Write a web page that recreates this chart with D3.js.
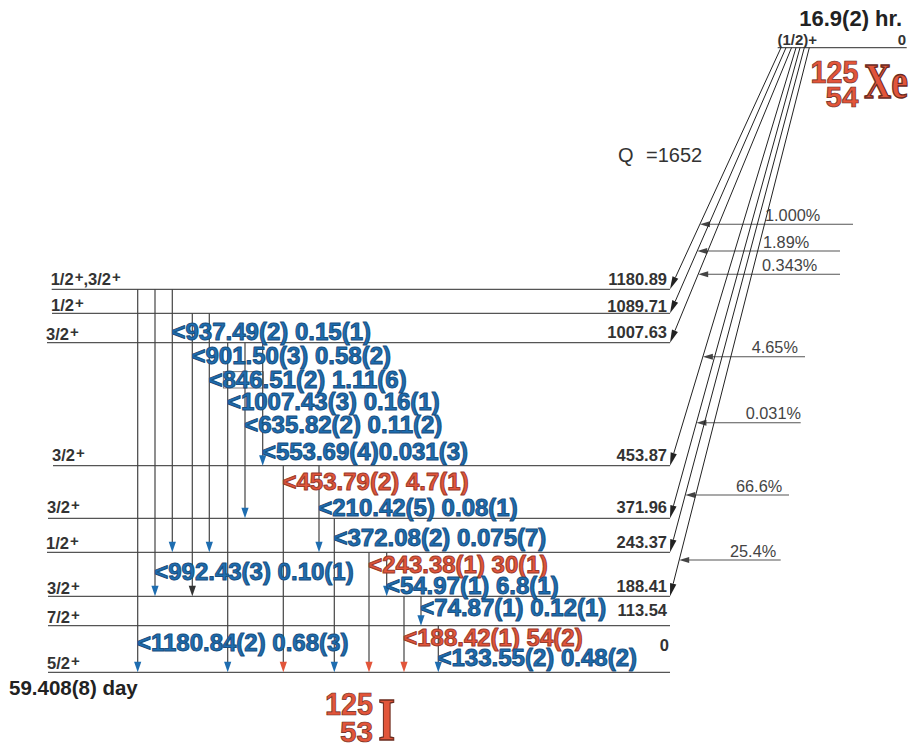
<!DOCTYPE html>
<html><head><meta charset="utf-8">
<script src="https://cdn.jsdelivr.net/npm/d3@7"></script>
<style>body{margin:0;background:#fff}</style>
</head><body><svg id="c" width="914" height="748"></svg>
<script>
// ---------------- DATA ----------------
const levelEnergies = [1180.89, 1089.71, 1007.63, 453.87, 371.96, 243.37, 188.41, 113.54, 0];
const levelLabels   = ["1180.89","1089.71","1007.63","453.87","371.96","243.37","188.41","113.54","0"];
const levelSpins    = ["1/2+,3/2+","1/2+","3/2+","3/2+","3/2+","1/2+","3/2+","7/2+","5/2+"];

const gammaFrom   = [1180.89,1180.89,1180.89,1089.71,1089.71,1007.63,1007.63,1007.63,453.87,453.87,371.96,243.37,243.37,188.41,188.41,113.54];
const gammaTo     = [0,188.41,243.37,188.41,243.37,0,371.96,453.87,0,243.37,0,0,188.41,0,113.54,0];
const gammaLabels = ["<1180.84(2) 0.68(3)","<992.43(3) 0.10(1)","<937.49(2) 0.15(1)","<901.50(3) 0.58(2)",
  "<846.51(2) 1.11(6)","<1007.43(3) 0.16(1)","<635.82(2) 0.11(2)","<553.69(4)0.031(3)",
  "<453.79(2) 4.7(1)","<210.42(5) 0.08(1)","<372.08(2) 0.075(7)","<243.38(1) 30(1)",
  "<54.97(1) 6.8(1)","<188.42(1) 54(2)","<74.87(1) 0.12(1)","<133.55(2) 0.48(2)"];
const gammaKind   = ["weak","weak","weak","plain","weak","weak","weak","weak",
  "strong","weak","weak","strong","weak","strong","weak","weak"];

const betaLevels      = [1180.89, 1089.71, 1007.63, 453.87, 371.96, 243.37, 188.41];
const betaIntensities = ["1.000%","1.89%","0.343%","4.65%","0.031%","66.6%","25.4%"];

const parentHalfLife = "16.9(2) hr.";
const parentSpin = "(1/2)+";
const parentLevel = "0";
const daughterHalfLife = "59.408(8) day";
const qValue = "=1652";
const parentNuclide = {A:"125", Z:"54", sym:"Xe"};
const daughterNuclide = {A:"125", Z:"53", sym:"I"};

// ---------------- LAYOUT / STYLE ----------------
const levelY = [289.3, 313.3, 342.7, 465.7, 518.3, 552.3, 596.3, 625.7, 672.3];
const levelLeft = [51.7, 52, 47, 53, 48, 47, 48, 48, 48];
const levelRight = 670;
const spinY = [284.5, 310.5, 339.5, 461, 513, 548.5, 593.5, 622.5, 668.5];
const energyY = [285, 311.5, 338, 461, 513, 547.5, 592, 615.5, 650.5];
const gammaX = [137.7,155,172.3,192.3,209.3,227.7,245,262.7,283.3,319,334.3,369,386.7,404,421,438.3];
const gammaLabelY = [651,580,340,364,387.5,410,433,460,490,516,546,573,594,646,616,666];
const betaStartX = [781,786,791.5,796,800,804.3,809.3];
const parentY = 47.7;
const arrowY = [224.3,251,274.3,356.7,422.7,495,560];
const arrowRight = [853,840,840,805,800.7,789,780.7];
const pctX = [765,763,762,751.7,745.7,736,730];

const BLUE = "#1e6db0", BLUE_S = "#184f80";
const RED = "#e2553a", RED_S = "#9a3a2a";
const DARK = "#333";
const fillOf = {weak: BLUE, strong: RED, plain: BLUE};
const strokeOf = {weak: BLUE_S, strong: RED_S, plain: BLUE_S};
const headOf = {weak: BLUE, strong: RED, plain: "#333"};

const svg = d3.select("#c");
const yScale = d3.scaleLinear().domain(levelEnergies).range(levelY);
const xGamma = d3.scaleOrdinal().domain(d3.range(gammaLabels.length)).range(gammaX);
const SANS = "'Liberation Sans', Arial, Helvetica, sans-serif";
const SERIF = "'Liberation Serif', 'Times New Roman', serif";

// ---------------- LEVELS ----------------
const lv = svg.append("g");
lv.selectAll("line").data(levelEnergies).join("line")
  .attr("x1",(d,i)=>levelLeft[i]).attr("x2",levelRight)
  .attr("y1",d=>yScale(d)).attr("y2",d=>yScale(d))
  .attr("stroke","#555").attr("stroke-width",1.3);

// spin labels with raised "+"
levelSpins.forEach((s,i)=>{
  const t = lv.append("text").attr("x",levelLeft[i]-1).attr("y",spinY[i])
    .attr("font-family",SANS).attr("font-weight","bold").attr("font-size",16.5).attr("fill",DARK);
  let raised = false;
  s.split(/(\+)/).filter(p=>p.length).forEach(p=>{
    if(p==="+"){ t.append("tspan").attr("dy",-3).attr("dx",1).attr("font-size",15).text("+"); raised = true; }
    else { t.append("tspan").attr("dy", raised? 3:0).text(p); raised = false; }
  });
});

lv.selectAll("text.en").data(levelLabels).join("text").attr("class","en")
  .attr("x",(d,i)=> i===8 ? 669 : 667).attr("y",(d,i)=>energyY[i])
  .attr("text-anchor","end").attr("font-family",SANS).attr("font-weight","bold")
  .attr("font-size",16.5).attr("fill",DARK).text(d=>d);

// ---------------- GAMMAS ----------------
const gg = svg.append("g");
// small box near 846.51 as in the reference
gg.append("rect").attr("x",223.3).attr("y",371.7).attr("width",40).attr("height",16.3)
  .attr("fill","none").attr("stroke","#555").attr("stroke-width",0.8);

gammaLabels.forEach((lab,i)=>{
  const x = xGamma(i), y1 = yScale(gammaFrom[i]), y2 = yScale(gammaTo[i]);
  gg.append("line").attr("x1",x).attr("x2",x).attr("y1",y1).attr("y2",y2-9)
    .attr("stroke","#444").attr("stroke-width",1.2);
  gg.append("path").attr("d",`M${x-3.6},${y2-10.5}L${x+3.6},${y2-10.5}L${x},${y2}Z`)
    .attr("fill",headOf[gammaKind[i]]);
});
gammaLabels.forEach((lab,i)=>{
  gg.append("text").attr("x",xGamma(i)-0.8).attr("y",gammaLabelY[i])
    .attr("font-family",SANS).attr("font-weight","bold").attr("font-size",24)
    .attr("fill",fillOf[gammaKind[i]]).attr("stroke",strokeOf[gammaKind[i]])
    .attr("stroke-width",1).attr("stroke-linejoin","round").text(lab);
});

// ---------------- PARENT ----------------
const pg = svg.append("g");
pg.append("line").attr("x1",777.7).attr("x2",906.7).attr("y1",parentY).attr("y2",parentY)
  .attr("stroke","#555").attr("stroke-width",1.3);
pg.append("text").attr("x",902).attr("y",26).attr("text-anchor","end")
  .attr("font-family",SANS).attr("font-weight","bold").attr("font-size",22).attr("fill","#222")
  .text(parentHalfLife);
pg.append("text").attr("x",777.5).attr("y",45).attr("font-family",SANS).attr("font-weight","bold")
  .attr("font-size",15).attr("fill",DARK).text(parentSpin);
pg.append("text").attr("x",906).attr("y",45).attr("text-anchor","end").attr("font-family",SANS)
  .attr("font-weight","bold").attr("font-size",15).attr("fill",DARK).text(parentLevel);

// beta feeds
betaLevels.forEach((e,i)=>{
  const x0 = betaStartX[i], y0 = parentY, x1 = levelRight, y1 = yScale(e);
  const dx = x1-x0, dy = y1-y0, L = Math.hypot(dx,dy), ux = dx/L, uy = dy/L;
  const hl = 13, hw = 3.2;
  const bx = x1-ux*hl, by = y1-uy*hl;
  pg.append("line").attr("x1",x0).attr("y1",y0).attr("x2",bx).attr("y2",by)
    .attr("stroke","#222").attr("stroke-width",1);
  pg.append("path").attr("d",`M${x1},${y1}L${bx-uy*hw},${by+ux*hw}L${bx+uy*hw},${by-ux*hw}Z`)
    .attr("fill","#222");
  // intensity arrow
  const ay = arrowY[i];
  const tx = x0 + (ay-y0)/dy*dx;
  pg.append("line").attr("x1",arrowRight[i]).attr("x2",tx+9).attr("y1",ay).attr("y2",ay)
    .attr("stroke","#555").attr("stroke-width",1.1);
  pg.append("path").attr("d",`M${tx},${ay}L${tx+10},${ay-3}L${tx+10},${ay+3}Z`).attr("fill","#444");
  pg.append("text").attr("x",pctX[i]).attr("y",ay-3.5).attr("font-family",SANS)
    .attr("font-size",16.3).attr("fill","#444").text(betaIntensities[i]);
});

// Q value
pg.append("text").attr("x",618).attr("y",161.5).attr("font-family",SANS).attr("font-size",20)
  .attr("fill",DARK).text("Q");
pg.append("text").attr("x",646).attr("y",161.5).attr("font-family",SANS).attr("font-size",20)
  .attr("fill",DARK).text(qValue);

// daughter half-life
svg.append("text").attr("x",9).attr("y",695).attr("font-family",SANS).attr("font-weight","bold")
  .attr("font-size",20.5).attr("fill","#222").text(daughterHalfLife);

// nuclide symbols (condensed via horizontal scale)
function condensed(g, text, x, y, family, size, targetW, anchor){
  const t = g.append("text").attr("font-family",family).attr("font-weight","bold")
    .attr("font-size",size).text(text);
  const w = t.node().getComputedTextLength();
  const s = targetW / w;
  const left = anchor==="end" ? x - targetW : x;
  t.attr("transform",`translate(${left},${y}) scale(${s},1)`);
  return t;
}
function nuclide(n, xr, yA, yZ, symX, symY, symSize, symLen){
  const g = svg.append("g").attr("fill",RED).attr("stroke","#6a2a1e").attr("stroke-width",0.7);
  condensed(g, n.A, xr, yA, SANS, 31, 48, "end");
  condensed(g, n.Z, xr, yZ, SANS, 30, 33, "end");
  condensed(g, n.sym, symX, symY, SERIF, symSize, symLen, "start").attr("stroke-width",1.4);
}
nuclide(parentNuclide, 858.5, 82.7, 106.7, 864, 98.3, 50, 44);
nuclide(daughterNuclide, 373, 715, 741.7, 378.3, 740, 61, 17);
</script></body></html>
